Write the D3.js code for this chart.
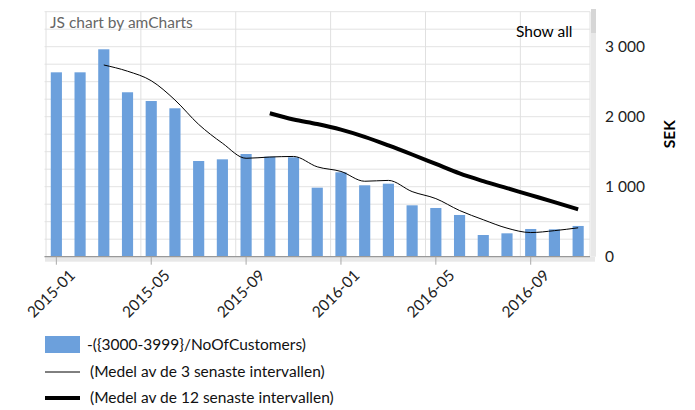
<!DOCTYPE html>
<meta charset="utf-8">
<script src="https://d3js.org/d3.v7.min.js"></script>
<style>
  body { margin: 0; background: #fff; }
  text { font-family: Lato, "Open Sans", sans-serif; }
</style>
<body>
<div id="my_dataviz"></div>
<script>

// data
var months = ["2015-01","2015-02","2015-03","2015-04","2015-05","2015-06","2015-07","2015-08",
              "2015-09","2015-10","2015-11","2015-12","2016-01","2016-02","2016-03","2016-04",
              "2016-05","2016-06","2016-07","2016-08","2016-09","2016-10","2016-11"]
var customerValues = [2634, 2634, 2963, 2349, 2224, 2120, 1367, 1391, 1467, 1429, 1420, 986,
                      1206, 1020, 1043, 734, 696, 596, 310, 334, 396, 391, 439]
var avg3 = [null, null, 2739, 2650, 2514, 2239, 1890, 1622, 1406, 1424, 1432, 1284,
            1218, 1078, 1090, 930, 830, 660, 528, 408, 345, 372, 413]
var avg12 = [null, null, null, null, null, null, null, null, null, 2049, 1960, 1895,
             1815, 1712, 1590, 1460, 1325, 1190, 1080, 980, 880, 780, 677]
var yTicks = [0, 1000, 2000, 3000]
var gridStep = 250
var seriesNames = ["-({3000-3999}/NoOfCustomers)", "(Medel av de 3 senaste intervallen)", "(Medel av de 12 senaste intervallen)"]

var W = 695, H = 410
var plot = {left: 44.5, right: 590, top: 11.7, bottom: 256.7}
var fs = "15.5px"

var svg = d3.select("#my_dataviz")
  .append("svg")
    .attr("width", W)
    .attr("height", H)

var x = d3.scaleBand()
  .domain(months)
  .range([plot.left, plot.right])
  .padding(0)

var y = d3.scaleLinear()
  .domain([0, 3500])
  .range([plot.bottom, plot.top])

// horizontal grid
svg.append("g")
  .selectAll("line")
  .data(d3.range(0, 3501, gridStep))
  .enter().append("line")
    .attr("x1", plot.left).attr("x2", plot.right)
    .attr("y1", function(d) { return y(d) }).attr("y2", function(d) { return y(d) })
    .attr("stroke", "#e3e3e3")

// vertical grid at every 4th month + borders
var labelled = months.filter(function(d, i) { return i % 4 == 0 })
svg.append("g")
  .selectAll("line")
  .data(labelled)
  .enter().append("line")
    .attr("x1", function(d) { return x(d) + 1.5 }).attr("x2", function(d) { return x(d) + 1.5 })
    .attr("y1", plot.top).attr("y2", plot.bottom)
    .attr("stroke", "#e0e0e0")
svg.append("line")
  .attr("x1", plot.right).attr("x2", plot.right)
  .attr("y1", plot.top).attr("y2", plot.bottom)
  .attr("stroke", "#e0e0e0")

// scrollbars
svg.append("rect")
  .attr("x", 591).attr("y", 9).attr("width", 5).attr("height", plot.bottom - 9)
  .attr("fill", "#e8e8e8")
svg.append("rect")
  .attr("x", 591).attr("y", 9).attr("width", 5).attr("height", 24)
  .attr("fill", "#d6d6d6")
svg.append("rect")
  .attr("x", 45).attr("y", plot.bottom).attr("width", 550).attr("height", 5)
  .attr("fill", "#e8e8e8")

// bars
var barW = x.bandwidth() * 0.47
svg.append("g")
  .selectAll("rect")
  .data(customerValues)
  .enter().append("rect")
    .attr("x", function(d, i) { return x(months[i]) + (x.bandwidth() - barW) / 2 })
    .attr("y", function(d) { return y(d) })
    .attr("width", barW)
    .attr("height", function(d) { return y(0) - y(d) })
    .attr("fill", "#6ca0dc")

// baseline
svg.append("line")
  .attr("x1", plot.left).attr("x2", plot.right)
  .attr("y1", plot.bottom).attr("y2", plot.bottom)
  .attr("stroke", "#999").attr("stroke-width", 1.2)

// moving average lines
var line = d3.line()
  .defined(function(d) { return d != null })
  .x(function(d, i) { return x(months[i]) + x.bandwidth() / 2 })
  .y(function(d) { return y(d) })
  .curve(d3.curveMonotoneX)

svg.append("path")
  .attr("d", line(avg3))
  .attr("fill", "none")
  .attr("stroke", "#000")
  .attr("stroke-width", 1)
svg.append("path")
  .attr("d", line(avg12))
  .attr("fill", "none")
  .attr("stroke", "#000")
  .attr("stroke-width", 4)

// x axis
var xAxis = svg.append("g")
  .attr("transform", "translate(0," + plot.bottom + ")")
  .call(d3.axisBottom(x).tickValues(labelled).tickSize(8).tickPadding(9))
xAxis.select(".domain").remove()
xAxis.selectAll(".tick line").attr("stroke", "#aaa")
xAxis.selectAll(".tick text")
  .attr("font-family", "Lato, sans-serif")
  .attr("font-size", fs)
  .attr("fill", "#222")
  .attr("text-anchor", "end")
  .attr("dx", "0em")
  .attr("dy", "0.7em")
  .attr("transform", "rotate(-45)")

// y axis on the right
var yAxis = svg.append("g")
  .attr("transform", "translate(" + 600 + ",0)")
  .call(d3.axisRight(y).tickValues(yTicks).tickSize(0).tickPadding(5)
    .tickFormat(function(d) { return d3.format(",")(d).replace(",", " ") }))
yAxis.select(".domain").remove()
yAxis.selectAll(".tick text")
  .attr("font-family", "Lato, sans-serif")
  .attr("font-size", fs)
  .attr("fill", "#222")

svg.append("text")
  .attr("transform", "translate(675," + (plot.top + plot.bottom) / 2 + ") rotate(-90)")
  .attr("text-anchor", "middle")
  .attr("font-size", fs)
  .attr("font-weight", "bold")
  .attr("fill", "#000")
  .text("SEK")

// title and button
svg.append("text")
  .attr("x", 50).attr("y", 28)
  .attr("font-size", fs)
  .attr("fill", "#666")
  .text("JS chart by amCharts")
svg.append("text")
  .attr("x", 516).attr("y", 37)
  .attr("font-size", fs)
  .attr("fill", "#000")
  .text("Show all")

// legend
var legend = svg.append("g")
legend.append("rect")
  .attr("x", 45).attr("y", 336).attr("width", 35).attr("height", 17)
  .attr("fill", "#6ca0dc")
legend.append("line")
  .attr("x1", 45).attr("x2", 80).attr("y1", 372).attr("y2", 372)
  .attr("stroke", "#000").attr("stroke-width", 1)
legend.append("line")
  .attr("x1", 45).attr("x2", 80).attr("y1", 398).attr("y2", 398)
  .attr("stroke", "#000").attr("stroke-width", 4)
legend.selectAll("text")
  .data(seriesNames)
  .enter().append("text")
    .attr("x", function(d, i) { return i == 0 ? 87 : 90 })
    .attr("y", function(d, i) { return 345 + i * 26.5 })
    .attr("dy", "0.35em")
    .attr("font-size", fs)
    .attr("fill", "#111")
    .text(function(d) { return d })

</script>
</body>
